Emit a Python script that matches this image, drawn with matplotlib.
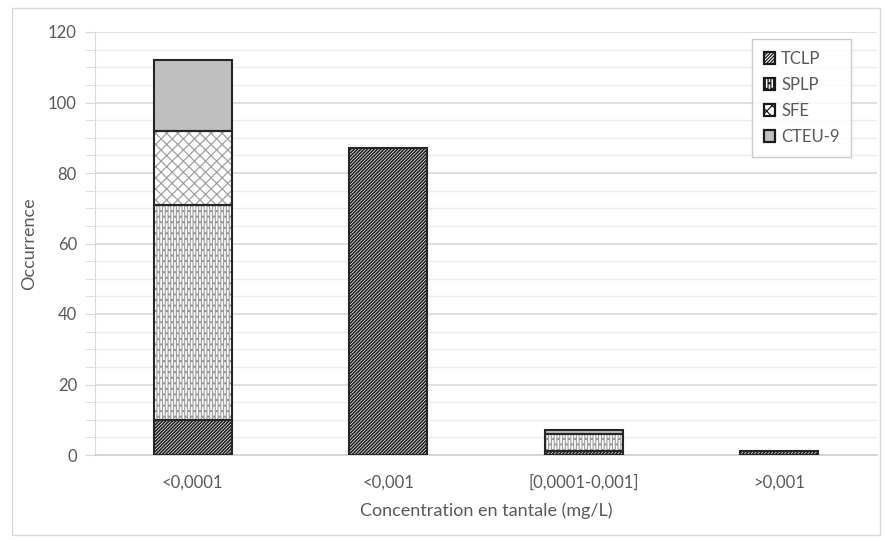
import matplotlib
matplotlib.use("Agg")
import matplotlib.pyplot as plt
from matplotlib.patches import Patch, Rectangle
from matplotlib.ticker import MultipleLocator
import numpy as np

categories = ["<0,0001", "<0,001", "[0,0001-0,001]", ">0,001"]
series_names = ["TCLP", "SPLP", "SFE", "CTEU-9"]
tclp = [10, 87, 1, 1]
splp = [61, 0, 5, 0]
sfe = [21, 0, 0, 0]
cteu = [20, 0, 1, 0]
values = [tclp, splp, sfe, cteu]

plt.rcParams['font.family'] = ['Lato', 'DejaVu Sans']
txt = '#595959'

fig = plt.figure(figsize=(8.87, 5.4), dpi=100)
fig.patches.append(Rectangle((12/887, 1-535/540), 868/887, 527/540, transform=fig.transFigure,
                             fill=False, edgecolor='#d9d9d9', lw=1))
ax = fig.add_axes([95/887, 1-455/540, 782/887, 423/540])

styles = [
    dict(face='white', hatch='//////////', hcol='#1e1e1e', hlw=1.2),
    dict(face='white', hatch='||||||...', hcol='#9a9a9a', hlw=0.8),
    dict(face='white', hatch='xxx', hcol='#a0a0a0', hlw=0.9),
    dict(face='#bfbfbf', hatch=None, hcol='#bfbfbf', hlw=0.9),
]

x = np.arange(len(categories))
w = 0.4
bottom = np.zeros(len(categories))
for vals, st in zip(values, styles):
    plt.rcParams['hatch.linewidth'] = st['hlw']
    v = np.array(vals, dtype=float)
    mask = v > 0
    ax.bar(x[mask], v[mask], w, bottom=bottom[mask], color=st['face'], hatch=st['hatch'],
           edgecolor=st['hcol'], linewidth=0, zorder=3)
    ax.bar(x[mask], v[mask], w, bottom=bottom[mask], fill=False,
           edgecolor='#262626', linewidth=1.5, zorder=4)
    bottom += v

ax.set_xlim(-0.5, len(categories) - 0.5)
ax.set_ylim(0, 120)
ax.yaxis.set_major_locator(MultipleLocator(20))
ax.yaxis.set_minor_locator(MultipleLocator(5))
ax.grid(axis='y', which='major', color='#d9d9d9', lw=1.2, zorder=0)
ax.grid(axis='y', which='minor', color='#ededed', lw=1.0, zorder=0)
ax.set_axisbelow(True)
for s in ['top', 'right']:
    ax.spines[s].set_visible(False)
ax.spines['left'].set_color('#d9d9d9')
ax.spines['bottom'].set_color('#d0d0d0')
ax.spines['bottom'].set_linewidth(1.2)
ax.tick_params(axis='y', which='both', length=7, color='#d9d9d9', labelcolor=txt, labelsize=12, pad=6)
ax.tick_params(axis='x', length=0, labelcolor=txt, labelsize=12, pad=14)
ax.set_xticks(x)
ax.set_xticklabels(categories)
ax.set_xlabel("Concentration en tantale (mg/L)", color=txt, fontsize=13, labelpad=8)
ax.set_ylabel("Occurrence", color=txt, fontsize=13, labelpad=8)

handles = []
for name, st in zip(series_names, styles):
    plt.rcParams['hatch.linewidth'] = 0.9
    handles.append(Patch(facecolor=st['face'], hatch=st['hatch'],
                         edgecolor='#1a1a1a', linewidth=1.6, label=name))
leg = ax.legend(handles=handles, loc='upper right', bbox_to_anchor=(0.967, 0.983),
                frameon=True, fancybox=False, fontsize=12, handlelength=0.7, handleheight=0.7,
                handletextpad=0.35, labelspacing=0.6, borderpad=0.7, borderaxespad=0, labelcolor=txt)
leg.get_frame().set_edgecolor('#bfbfbf')
leg.get_frame().set_linewidth(1)

fig.savefig("out.png", dpi=100)
